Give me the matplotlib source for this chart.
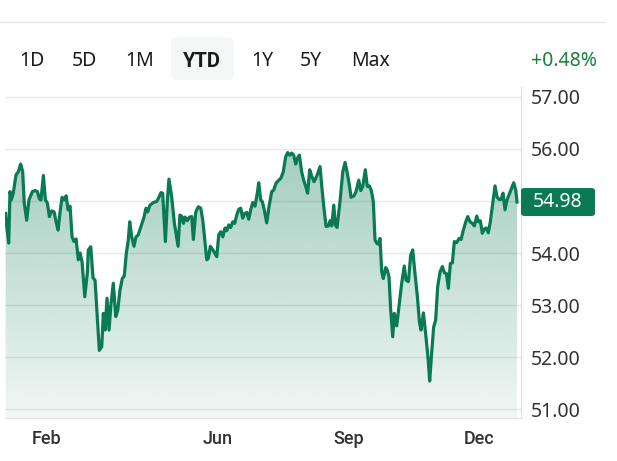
import matplotlib
matplotlib.use("Agg")
import matplotlib.pyplot as plt
import matplotlib.dates as mdates
from matplotlib.patches import FancyBboxPatch
from matplotlib.lines import Line2D
import numpy as np
import pandas as pd

# day of year (Jan 1 = 0) and closing price
days = [2.4, 3.1, 4.5, 5.4, 6.3, 7.7, 9.6, 11.2, 12.9, 14.3,
        15.4, 17.1, 18.7, 21.1, 22.9, 24.6, 26.0, 27.1, 28.8, 30.2,
        31.6, 33.0, 34.6, 36.3, 37.7, 39.1, 40.5, 41.9, 43.3, 44.7,
        46.1, 47.5, 48.9, 50.3, 51.7, 53.3, 54.5, 55.9, 57.8, 59.6,
        60.3, 62.0, 63.6, 65.0, 68.0, 69.7, 70.8, 72.0, 73.4, 74.8,
        76.2, 77.8, 79.5, 80.9, 82.5, 84.1, 85.5, 86.9, 88.3, 89.3,
        90.7, 92.3, 93.7, 95.3, 97.2, 99.1, 100.7, 101.9, 103.5, 105.8,
        108.2, 109.4, 111.2, 112.4, 114.3, 115.7, 116.8, 118.7, 120.6, 123.2,
        124.5, 125.9, 126.9, 128.1, 129.7, 131.1, 132.8, 133.9, 135.6, 137.4,
        139.1, 140.5, 141.9, 143.3, 144.4, 145.8, 147.5, 149.1, 150.3, 151.7,
        153.1, 154.5, 156.1, 157.3, 158.7, 160.1, 161.5, 162.9, 164.3, 165.7,
        167.1, 168.5, 169.9, 171.3, 172.7, 174.1, 175.5, 177.1, 178.7, 179.7,
        181.1, 182.2, 183.6, 185.3, 186.9, 188.8, 190.2, 191.8, 193.4, 195.3,
        196.9, 198.6, 200.0, 201.4, 202.8, 204.2, 205.6, 206.8, 208.2, 209.8,
        211.2, 212.6, 214.0, 215.4, 216.9, 218.5, 220.4, 222.7, 223.9, 225.3,
        226.9, 228.5, 229.7, 230.9, 232.3, 233.4, 234.6, 236.7, 238.6, 240.2,
        241.8, 243.2, 244.4, 246.5, 247.9, 249.8, 251.2, 252.6, 254.4, 255.8,
        257.2, 258.6, 260.0, 261.2, 262.4, 263.5, 264.7, 265.9, 267.0, 268.7,
        269.8, 271.0, 272.2, 273.6, 274.7, 276.4, 278.2, 279.9, 281.7, 282.9,
        284.6, 286.2, 287.6, 289.2, 290.9, 292.3, 293.4, 295.1, 296.9, 298.5,
        299.5, 300.9, 302.3, 303.7, 305.1, 306.8, 308.4, 309.8, 311.2, 312.6,
        314.0, 315.4, 316.8, 318.5, 320.1, 321.5, 323.1, 324.8, 326.2, 327.8,
        329.4, 330.8, 332.5, 333.6, 335.0, 336.4, 337.8, 339.2, 340.6, 342.0,
        343.7, 345.3, 346.7, 348.1, 349.5, 350.9, 352.3, 353.7, 355.1, 356.5,
        358.4, 359.8, 360.7]

prices = [54.76, 54.51, 54.19, 55.18, 55.02, 55.15, 55.50, 55.56, 55.71, 55.56,
          54.96, 54.63, 55.02, 55.18, 55.20, 55.18, 55.04, 55.02, 55.49, 55.02,
          54.96, 54.70, 54.81, 54.79, 54.60, 54.44, 54.79, 55.07, 55.02, 55.10,
          54.83, 54.90, 54.31, 54.22, 54.27, 53.87, 54.00, 53.83, 53.16, 53.62,
          54.06, 54.12, 53.52, 53.48, 52.13, 52.20, 52.84, 52.52, 53.13, 52.52,
          53.03, 53.42, 52.78, 52.90, 53.29, 53.51, 53.56, 53.99, 54.25, 54.60,
          54.31, 54.13, 54.31, 54.35, 54.51, 54.67, 54.86, 54.79, 54.92, 54.97,
          54.99, 55.05, 55.16, 55.15, 54.22, 55.02, 55.42, 55.08, 54.57, 54.13,
          54.73, 54.70, 54.57, 54.69, 54.62, 54.69, 54.70, 54.26, 54.79, 54.89,
          54.86, 54.63, 54.25, 53.87, 53.90, 54.13, 54.06, 53.99, 53.93, 54.35,
          54.41, 54.31, 54.48, 54.43, 54.54, 54.49, 54.60, 54.57, 54.73, 54.84,
          54.86, 54.67, 54.76, 54.78, 54.65, 54.83, 54.97, 54.90, 55.15, 55.35,
          55.02, 54.99, 54.83, 54.58, 54.89, 55.18, 55.21, 55.34, 55.39, 55.44,
          55.56, 55.85, 55.93, 55.88, 55.92, 55.88, 55.71, 55.82, 55.88, 55.56,
          55.40, 55.28, 55.15, 55.60, 55.47, 55.37, 55.48, 55.66, 55.28, 54.89,
          54.51, 54.52, 54.62, 54.52, 54.92, 54.54, 54.49, 55.00, 55.56, 55.74,
          55.53, 55.31, 55.07, 55.10, 55.18, 55.40, 55.20, 55.28, 55.60, 55.28,
          55.29, 55.20, 54.99, 54.25, 54.19, 54.17, 54.28, 53.64, 53.51, 53.72,
          53.67, 53.54, 52.90, 52.39, 52.84, 52.60, 53.03, 53.42, 53.75, 53.48,
          53.45, 53.96, 54.06, 53.61, 53.16, 52.68, 52.52, 52.85, 52.39, 51.94,
          51.54, 52.08, 52.58, 52.71, 53.35, 53.64, 53.74, 53.62, 53.61, 53.32,
          53.80, 53.81, 54.22, 54.20, 54.28, 54.26, 54.44, 54.60, 54.70, 54.60,
          54.57, 54.52, 54.71, 54.60, 54.62, 54.38, 54.46, 54.48, 54.39, 54.60,
          54.96, 55.29, 55.08, 55.03, 55.03, 55.15, 54.83, 55.02, 55.12, 55.22,
          55.35, 55.21, 54.98]

ranges = ["1D", "5D", "1M", "YTD", "1Y", "5Y", "Max"]
change_text = "+0.48%"
last_price = 54.98
y_ticks = [51, 52, 53, 54, 55, 56, 57]
month_ticks = ["2023-02-01", "2023-06-01", "2023-09-01", "2023-12-01"]

GREEN = "#0a7a55"
FONT = "Noto Sans"
BOLD_FONT = "Roboto"

dates = pd.Timestamp("2023-01-01") + pd.to_timedelta(days, unit="D")
x = mdates.date2num(dates)

fig = plt.figure(figsize=(6.17, 4.61), dpi=100)
ax = fig.add_axes([0.0081, 0.0933, 0.8363, 0.718])

ymin, ymax = 50.83, 57.19
x0 = mdates.date2num(pd.Timestamp("2023-01-01") + pd.Timedelta(days=1.9))
x1 = mdates.date2num(pd.Timestamp("2023-01-01") + pd.Timedelta(days=363.5))

# gradient fill under the line
poly = ax.fill_between(x, prices, ymin, color="none", lw=0)
grad = np.linspace(0.45, 0.06, 256).reshape(-1, 1)
rgba = np.zeros((256, 1, 4))
rgba[..., 0] = 10 / 255
rgba[..., 1] = 122 / 255
rgba[..., 2] = 85 / 255
rgba[..., 3] = grad
img = ax.imshow(rgba, aspect="auto", extent=[x0, x1, ymin, ymax],
                origin="upper", zorder=1)
img.set_clip_path(poly.get_paths()[0], transform=ax.transData)

ax.plot(x, prices, color=GREEN, lw=2.3, zorder=3, solid_joinstyle="round")

ax.set_xlim(x0, x1)
ax.set_ylim(ymin, ymax)

ax.set_yticks(y_ticks)
ax.set_yticklabels(["" if v == 55 else f"{v:.2f}" for v in y_ticks])
ax.yaxis.tick_right()
ax.grid(axis="y", color="#e8e8e8", lw=1)
ax.set_axisbelow(True)

ax.set_xticks(mdates.date2num(pd.to_datetime(month_ticks)))
ax.xaxis.set_major_formatter(mdates.DateFormatter("%b"))

ax.tick_params(axis="y", length=0, pad=7, labelsize=14, labelcolor="#333333")
ax.tick_params(axis="x", length=0, pad=9, labelsize=13, labelcolor="#333333")
for lab in ax.get_yticklabels():
    lab.set_fontfamily(FONT)
for lab in ax.get_xticklabels():
    lab.set_fontfamily(BOLD_FONT)
    lab.set_fontweight("medium")

for s in ["top", "left"]:
    ax.spines[s].set_visible(False)
ax.spines["right"].set_color("#dddddd")
ax.spines["bottom"].set_color("#e4e4e4")

# last price tag, in figure pixels converted from the data value
_, tag_y = fig.transFigure.inverted().transform(ax.transData.transform((x1, last_price)))
tag_h = 28 / 461
fig.add_artist(FancyBboxPatch((0.8444, tag_y - tag_h / 2), 0.1199, tag_h,
                              boxstyle="round,pad=0,rounding_size=0.006",
                              fc=GREEN, ec="none", transform=fig.transFigure,
                              zorder=5))
fig.text(0.9035, tag_y, f"{last_price:.2f}", ha="center", va="center",
         fontsize=14, color="white", family=FONT, zorder=6)

# header: top separator, range buttons, change
fig.add_artist(Line2D([0, 0.98], [0.952, 0.952], color="#e6e6e6", lw=1))
btn_x = [0.052, 0.137, 0.226, 0.328, 0.426, 0.504, 0.6]
for label, bx in zip(ranges, btn_x):
    if label == "YTD":
        fig.add_artist(FancyBboxPatch((0.277, 0.826), 0.102, 0.093,
                                      boxstyle="round,pad=0,rounding_size=0.012",
                                      fc="#f5f6f6", ec="none",
                                      transform=fig.transFigure))
        fig.text(bx, 0.867, label, ha="center", va="center", fontsize=14.5,
                 family=BOLD_FONT, color="#1a1a1a", fontweight="bold")
    else:
        fig.text(bx, 0.867, label, ha="center", va="center", fontsize=14,
                 family=FONT, color="#1a1a1a")
fig.text(0.968, 0.867, change_text, ha="right", va="center", fontsize=14,
         family=FONT, color="#188038")

fig.savefig("out.png", dpi=100, facecolor="white")
